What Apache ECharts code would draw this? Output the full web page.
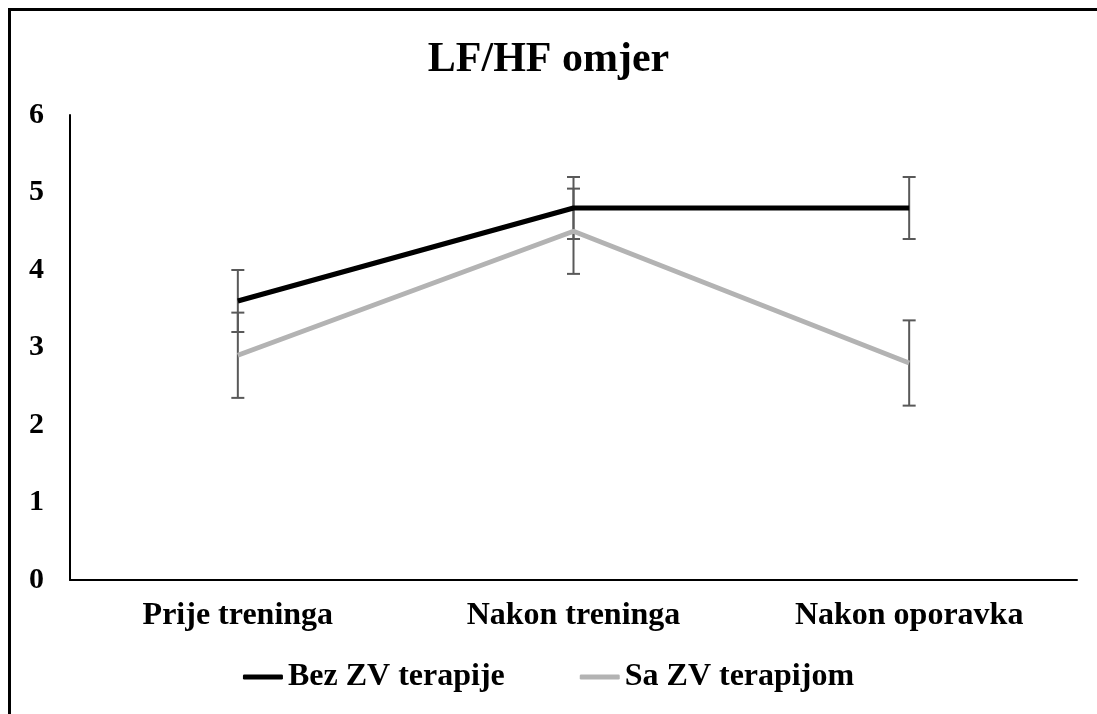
<!DOCTYPE html>
<html>
<head>
<meta charset="utf-8">
<script src="https://cdn.jsdelivr.net/npm/echarts@6/dist/echarts.min.js"></script>
<style>
  html, body { margin: 0; padding: 0; background: #fff; }
  #chart-lfhf { width: 1097px; height: 714px; }
</style>
</head>
<body>
<div id="chart-lfhf"></div>
<script>
// podaci s grafa
var categories = ['Prije treninga', 'Nakon treninga', 'Nakon oporavka'];
var bezValues = [3.6, 4.8, 4.8];
var saValues = [2.9, 4.5, 2.8];
var bezErr = [0.4, 0.4, 0.4];
var saErr = [0.55, 0.55, 0.55];

var serif = '"Liberation Serif", "Times New Roman", serif';

function errData(values, errs) {
    return values.map(function (v, i) {
        return [i, v - errs[i], v + errs[i]];
    });
}

function renderErr(params, api) {
    var x = api.value(0);
    var lo = api.coord([x, api.value(1)]);
    var hi = api.coord([x, api.value(2)]);
    var half = 6.5;
    var style = { stroke: '#595959', lineWidth: 2 };
    return {
        type: 'group',
        children: [
            { type: 'line', shape: { x1: hi[0], y1: hi[1], x2: lo[0], y2: lo[1] }, style: style },
            { type: 'line', shape: { x1: hi[0] - half, y1: hi[1], x2: hi[0] + half, y2: hi[1] }, style: style },
            { type: 'line', shape: { x1: lo[0] - half, y1: lo[1], x2: lo[0] + half, y2: lo[1] }, style: style }
        ]
    };
}

var chartLfhf = echarts.init(document.getElementById('chart-lfhf'));

var optionLfhf = {
    backgroundColor: '#fff',
    animation: false,
    graphic: [{
        type: 'rect',
        shape: { x: 9.5, y: 9.5, width: 1200, height: 1000 },
        style: { fill: 'none', stroke: '#000', lineWidth: 3 },
        silent: true
    }],
    title: {
        text: 'LF/HF omjer',
        left: 'center',
        top: 34,
        textStyle: { fontFamily: serif, fontSize: 42, fontWeight: 'bold', color: '#000' }
    },
    legend: {
        data: [
            { name: 'Bez ZV terapije', icon: 'roundRect' },
            { name: 'Sa ZV terapijom', icon: 'roundRect' }
        ],
        bottom: 16,
        left: 'center',
        itemWidth: 40,
        itemHeight: 5,
        itemGap: 75,
        textStyle: { fontFamily: serif, fontSize: 32, fontWeight: 'bold', color: '#000' }
    },
    grid: { left: 70, right: 20, top: 115, bottom: 134 },
    xAxis: {
        type: 'category',
        data: categories,
        boundaryGap: true,
        axisLine: { lineStyle: { color: '#000', width: 2 } },
        axisTick: { show: false },
        axisLabel: { margin: 20, fontFamily: serif, fontSize: 32, fontWeight: 'bold', color: '#000' }
    },
    yAxis: {
        type: 'value',
        min: 0,
        max: 6,
        interval: 1,
        axisLine: { show: true, lineStyle: { color: '#000', width: 2 } },
        axisTick: { show: false },
        splitLine: { show: false },
        axisLabel: { margin: 26, fontFamily: serif, fontSize: 30, fontWeight: 'bold', color: '#000' }
    },
    series: [{
        name: 'Bez ZV err',
        type: 'custom',
        renderItem: renderErr,
        data: errData(bezValues, bezErr),
        z: 1,
        silent: true
    }, {
        name: 'Sa ZV err',
        type: 'custom',
        renderItem: renderErr,
        data: errData(saValues, saErr),
        z: 1,
        silent: true
    }, {
        name: 'Bez ZV terapije',
        type: 'line',
        data: bezValues,
        showSymbol: false,
        symbol: 'none',
        color: '#000',
        lineStyle: { color: '#000', width: 5 },
        z: 3
    }, {
        name: 'Sa ZV terapijom',
        type: 'line',
        data: saValues,
        showSymbol: false,
        symbol: 'none',
        color: '#b3b3b3',
        lineStyle: { color: '#b3b3b3', width: 5 },
        z: 2
    }]
};

chartLfhf.setOption(optionLfhf);
</script>
</body>
</html>
